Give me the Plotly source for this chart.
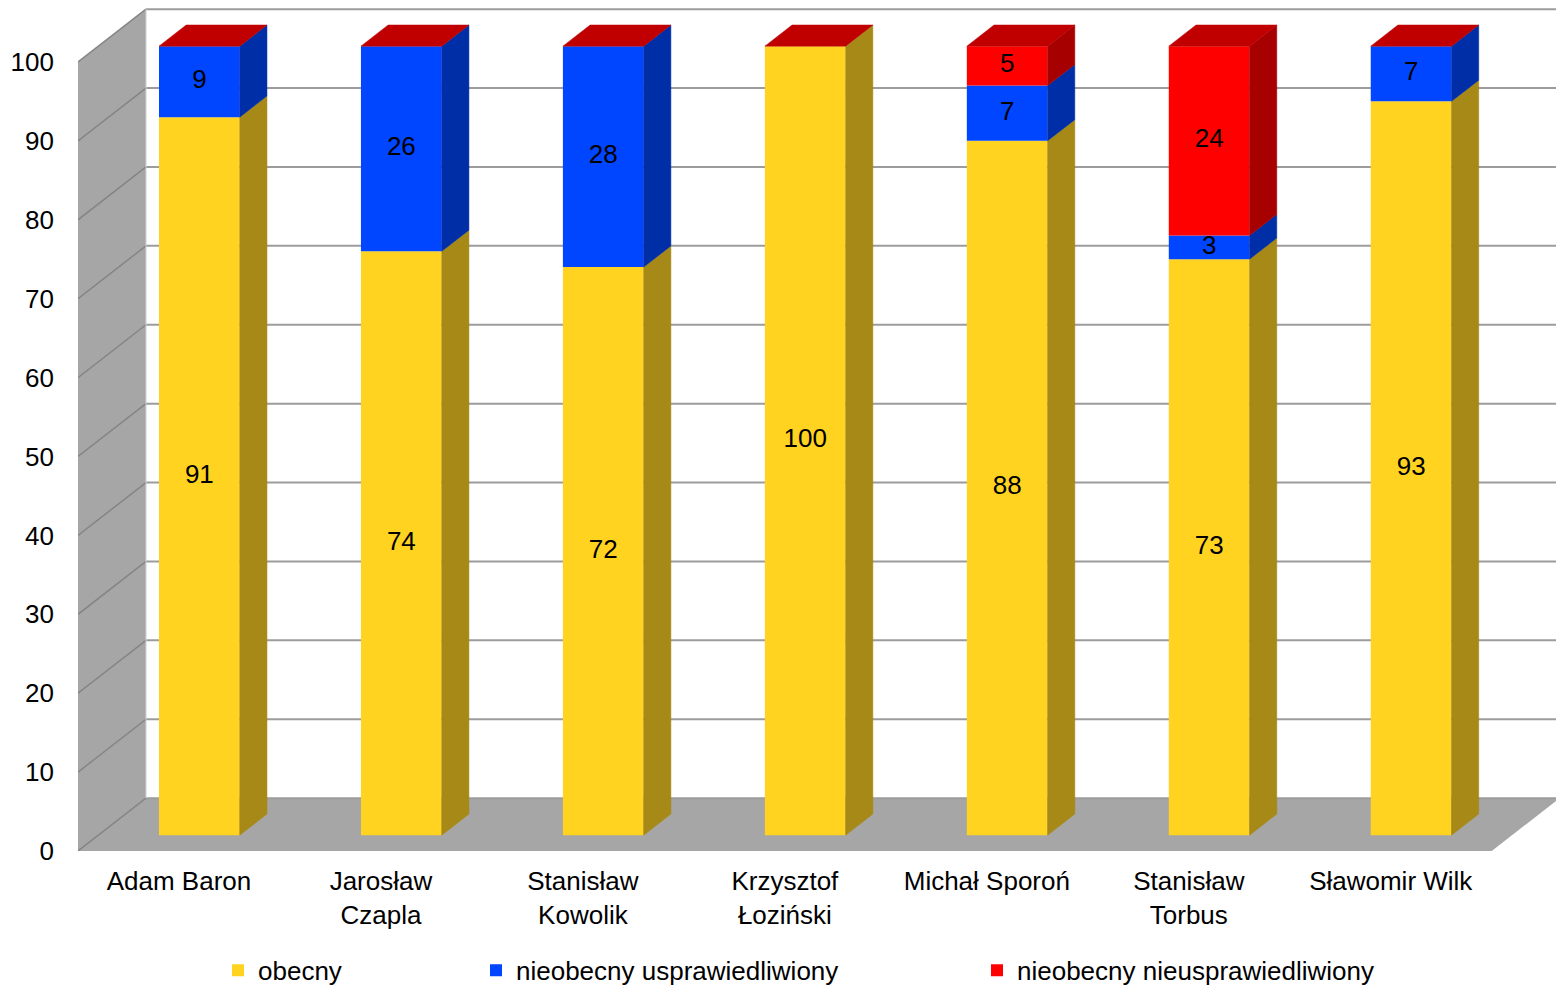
import plotly.graph_objects as go

# ---------------- data ----------------
categories = ["Adam Baron", "Jarosław<br>Czapla", "Stanisław<br>Kowolik", "Krzysztof<br>Łoziński",
              "Michał Sporoń", "Stanisław<br>Torbus", "Sławomir Wilk"]
obecny = [91, 74, 72, 100, 88, 73, 93]
nieobecny_uspr = [9, 26, 28, 0, 7, 3, 7]
nieobecny_nieuspr = [0, 0, 0, 0, 5, 24, 0]
series_names = ["obecny", "nieobecny usprawiedliwiony", "nieobecny nieusprawiedliwiony"]
y_ticks = list(range(0, 101, 10))

# ---------------- styles / geometry ----------------
FONT = "Liberation Sans, Arial, sans-serif"
FS = 26
front_colors = ["#FFD320", "#0045FF", "#FF0000"]
side_colors = ["#A68916", "#002EA6", "#A60000"]
top_color = "#C00000"
wall_color = "#A6A6A6"
grid_back = "#9C9C9C"
grid_left = "#858585"

W, H = 1556, 977
ML, MR, MT, MB = 70, 5, 0, 134
PLOT_W = W - ML - MR
PLOT_H = H - MT - MB
PX_PER_CAT = 201.96
PX_PER_VAL = 7.89

DX = 0.3367      # depth offset in category units
DY = 6.7         # depth offset in value units
BAR_W = 0.4
D_FRONT = 0.3
D_BACK = 0.7
N = len(categories)
XMAX = PLOT_W / PX_PER_CAT
YMAX = PLOT_H / PX_PER_VAL

series = [obecny, nieobecny_uspr, nieobecny_nieuspr]

fig = go.Figure()

# cumulative bases
bases = []
cum = [0] * N
for s in series:
    bases.append(list(cum))
    cum = [c + v for c, v in zip(cum, s)]
totals = cum

x_front_center = [i + 0.5 + D_FRONT * DX for i in range(N)]
legends = ["legend", "legend2", "legend3"]

# side faces
for k, s in enumerate(series):
    xs, ys = [], []
    for i in range(N):
        if s[i] <= 0:
            continue
        xr = x_front_center[i] + BAR_W / 2
        xb = xr + (D_BACK - D_FRONT) * DX
        b = bases[k][i]
        t = b + s[i]
        xs += [xr, xb, xb, xr, xr, None]
        ys += [b + D_FRONT * DY, b + D_BACK * DY, t + D_BACK * DY, t + D_FRONT * DY, b + D_FRONT * DY, None]
    fig.add_trace(go.Scatter(x=xs, y=ys, mode="lines", fill="toself", fillcolor=side_colors[k],
                             line=dict(width=0.5, color=side_colors[k]), showlegend=False,
                             hoverinfo="skip"))

# top faces
xs, ys = [], []
for i in range(N):
    xl = x_front_center[i] - BAR_W / 2
    xr = x_front_center[i] + BAR_W / 2
    ddx = (D_BACK - D_FRONT) * DX
    T = totals[i]
    xs += [xl, xr, xr + ddx, xl + ddx, xl, None]
    ys += [T + D_FRONT * DY, T + D_FRONT * DY, T + D_BACK * DY, T + D_BACK * DY, T + D_FRONT * DY, None]
fig.add_trace(go.Scatter(x=xs, y=ys, mode="lines", fill="toself", fillcolor=top_color,
                         line=dict(width=0.5, color=top_color), showlegend=False, hoverinfo="skip"))

# front faces (bars)
for k, s in enumerate(series):
    fig.add_trace(go.Bar(
        x=x_front_center, y=s, base=[b + D_FRONT * DY for b in bases[k]],
        width=BAR_W, marker=dict(color=front_colors[k], line=dict(width=0)),
        name=series_names[k], legend=legends[k], hoverinfo="skip"))

# data labels
for k, s in enumerate(series):
    lx, ly, lt = [], [], []
    for i in range(N):
        if s[i] > 0:
            lx.append(x_front_center[i])
            ly.append(bases[k][i] + D_FRONT * DY + s[i] / 2)
            lt.append(str(s[i]))
    fig.add_trace(go.Scatter(x=lx, y=ly, text=lt, mode="text", textposition="middle center",
                             textfont=dict(family=FONT, size=FS, color="black"),
                             showlegend=False, hoverinfo="skip"))

# walls, floor and gridlines
shapes = []
shapes.append(dict(type="path", xref="x", yref="y", layer="below",
                   path=f"M 0,0 L {DX},{DY} L {DX},{100 + DY} L 0,100 Z",
                   fillcolor=wall_color, line=dict(width=0)))
shapes.append(dict(type="path", xref="x", yref="y", layer="below",
                   path=f"M 0,0 L {N},0 L {N + DX},{DY} L {DX},{DY} Z",
                   fillcolor=wall_color, line=dict(width=0)))
for v in y_ticks:
    shapes.append(dict(type="line", xref="x", yref="y", layer="below",
                       x0=DX, x1=N + DX, y0=v + DY, y1=v + DY,
                       line=dict(color=grid_back, width=2)))
    shapes.append(dict(type="line", xref="x", yref="y", layer="below",
                       x0=0, x1=DX, y0=v, y1=v + DY,
                       line=dict(color=grid_left, width=1.5)))
shapes.append(dict(type="line", xref="x", yref="y", layer="below",
                   x0=DX, x1=DX, y0=DY, y1=100 + DY, line=dict(color="#D0D0D0", width=1)))

legend_common = dict(orientation="h", yanchor="middle", y=-119.3 / PLOT_H, xanchor="left",
                     font=dict(family=FONT, size=FS, color="black"),
                     bgcolor="rgba(0,0,0,0)", borderwidth=0, itemwidth=30)

fig.update_layout(
    width=W, height=H,
    margin=dict(l=ML, r=MR, t=MT, b=MB, autoexpand=False),
    paper_bgcolor="white", plot_bgcolor="white",
    barmode="overlay",
    font=dict(family=FONT, size=FS, color="black"),
    shapes=shapes,
    xaxis=dict(range=[0, XMAX], tickvals=[i + 0.5 for i in range(N)], ticktext=categories,
               showgrid=False, zeroline=False, showline=False, ticks="", automargin=False,
               ticklabelstandoff=12,
               tickfont=dict(family=FONT, size=FS, color="black"), fixedrange=True),
    yaxis=dict(range=[0, YMAX], tickvals=y_ticks, showgrid=False, zeroline=False,
               showline=False, ticks="", ticklabelstandoff=23, automargin=False,
               tickfont=dict(family=FONT, size=FS, color="black"), fixedrange=True),
    legend=dict(legend_common, x=(210 - ML) / PLOT_W),
    legend2=dict(legend_common, x=(468 - ML) / PLOT_W),
    legend3=dict(legend_common, x=(969 - ML) / PLOT_W),
)

fig.write_html("out.html")
